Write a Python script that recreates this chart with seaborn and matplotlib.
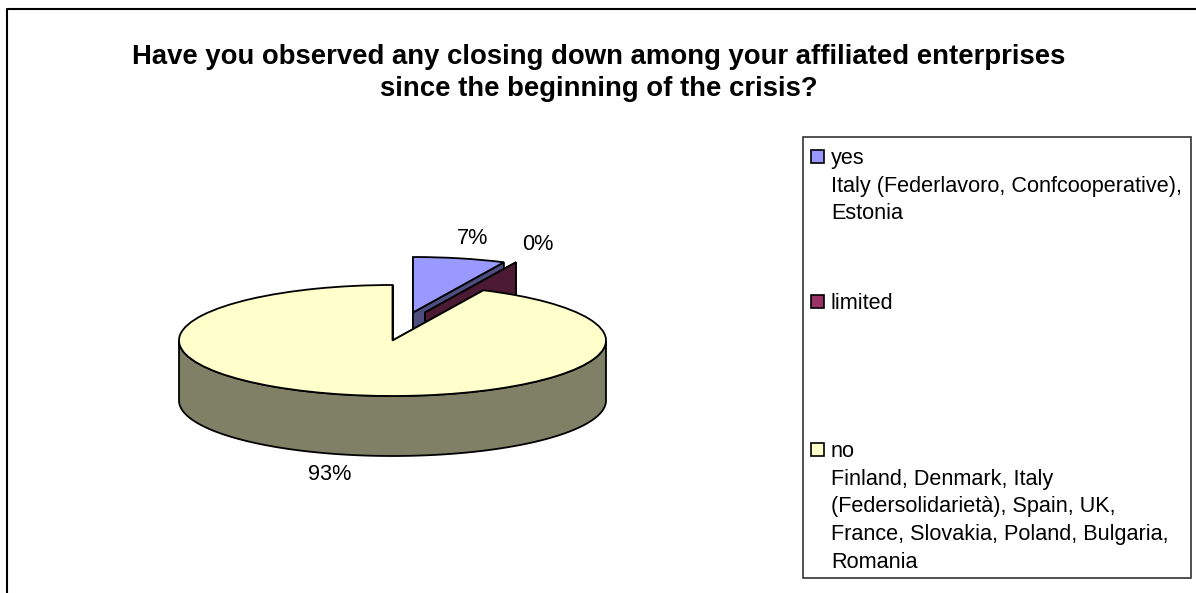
#!/usr/bin/env python3
import matplotlib
matplotlib.use("Agg")
import matplotlib.pyplot as plt
import numpy as np
import seaborn as sns

TITLE = "Have you observed any closing down among your affiliated enterprises\nsince the beginning of the crisis?"
CATEGORIES = ["yes", "limited", "no"]
NOTES = ["Italy (Federlavoro, Confcooperative),\nEstonia", "",
         "Finland, Denmark, Italy\n(Federsolidarietà), Spain, UK,\nFrance, Slovakia, Poland, Bulgaria,\nRomania"]
VALUES = [7, 0, 93]
PERCENT_LABELS = ["7%", "0%", "93%"]
COLORS = ["#9999ff", "#993366", "#ffffcc"]

W, H = 1196, 593
# pie geometry in pixels
CX, CY, RX, RY = 392.5, 340.5, 213.5, 55.5
DEPTH = 60 / RY
OFFSETS = [(20.5, 28), (32.5, 28), (0, 0)]
LABEL_POS = [(473, 239), (538, 245), (330, 475)]
LEGEND_Y = [157, 302, 450]

sns.set_theme(style="white")
plt.rcParams["font.family"] = ["Liberation Sans", "DejaVu Sans"]
palette = sns.color_palette(COLORS)


def draw_slice(ax, start, value, center, color):
    # start and value in percent, clockwise from 12 o'clock
    cx, cy = center
    side = tuple(c * 0.5 for c in color)
    a0 = np.pi / 2 - start / 100 * 2 * np.pi
    a1 = a0 - value / 100 * 2 * np.pi
    # cut faces
    for a in (a0, a1):
        tx, ty = cx + np.cos(a), cy + np.sin(a)
        ax.fill([cx, tx, tx, cx], [cy, ty, ty - DEPTH, cy - DEPTH], fc=side, ec="black", lw=1.3, zorder=2)
    # outer rim, only the part that faces the viewer
    t = np.linspace(a1, a0, 400)
    t = t[np.sin(t) <= 0]
    if value > 0 and len(t):
        xs, ys = cx + np.cos(t), cy + np.sin(t)
        ax.fill(np.r_[xs, xs[::-1]], np.r_[ys, ys[::-1] - DEPTH], fc=side, ec="black", lw=1.3, zorder=2)
    if value > 0:
        ax.pie([value / 100], normalize=False, startangle=np.degrees(a0), counterclock=False,
               center=center, radius=1, colors=[color], wedgeprops=dict(ec="black", lw=1.3, zorder=3))


fig = plt.figure(figsize=(W / 100, H / 100), dpi=100)
# one unit on the pie axes is one ellipse radius
pie_ax = fig.add_axes([0, 0, 1, 1])
start = 0
for i, value in enumerate(VALUES):
    dx, dy = OFFSETS[i]
    draw_slice(pie_ax, start, value, (dx / RX, dy / RY), palette[i])
    start += value
pie_ax.set_aspect("auto")
pie_ax.set_xlim(-CX / RX, (W - CX) / RX)
pie_ax.set_ylim((CY - H) / RY, CY / RY)
pie_ax.axis("off")

ov = fig.add_axes([0, 0, 1, 1], facecolor="none")
ov.set_xlim(0, W)
ov.set_ylim(H, 0)
ov.axis("off")
# chart frame, cut by the image edge at the bottom and right
ov.plot([7, 7, W], [H, 8.5, 8.5], color="black", lw=1.5, clip_on=False)

ov.text(599, 73, TITLE, ha="center", va="center", fontsize=19.8, fontweight="bold",
        color="black", linespacing=1.32)

for (x, y), label in zip(LABEL_POS, PERCENT_LABELS):
    ov.text(x, y, label, ha="center", va="center", fontsize=15.6, color="black")

ov.add_patch(plt.Rectangle((803, 137), 388, 441, fc="white", ec="#333333", lw=1.2))
for i, name in enumerate(CATEGORIES):
    y = LEGEND_Y[i]
    ov.add_patch(plt.Rectangle((811, y - 7), 13, 13, fc=palette[i], ec="black", lw=1.2))
    text = name if not NOTES[i] else name + "\n" + NOTES[i]
    ov.text(831, y - 9, text, ha="left", va="top", fontsize=15.6, color="black", linespacing=1.42)

fig.savefig("out.png", dpi=100)
